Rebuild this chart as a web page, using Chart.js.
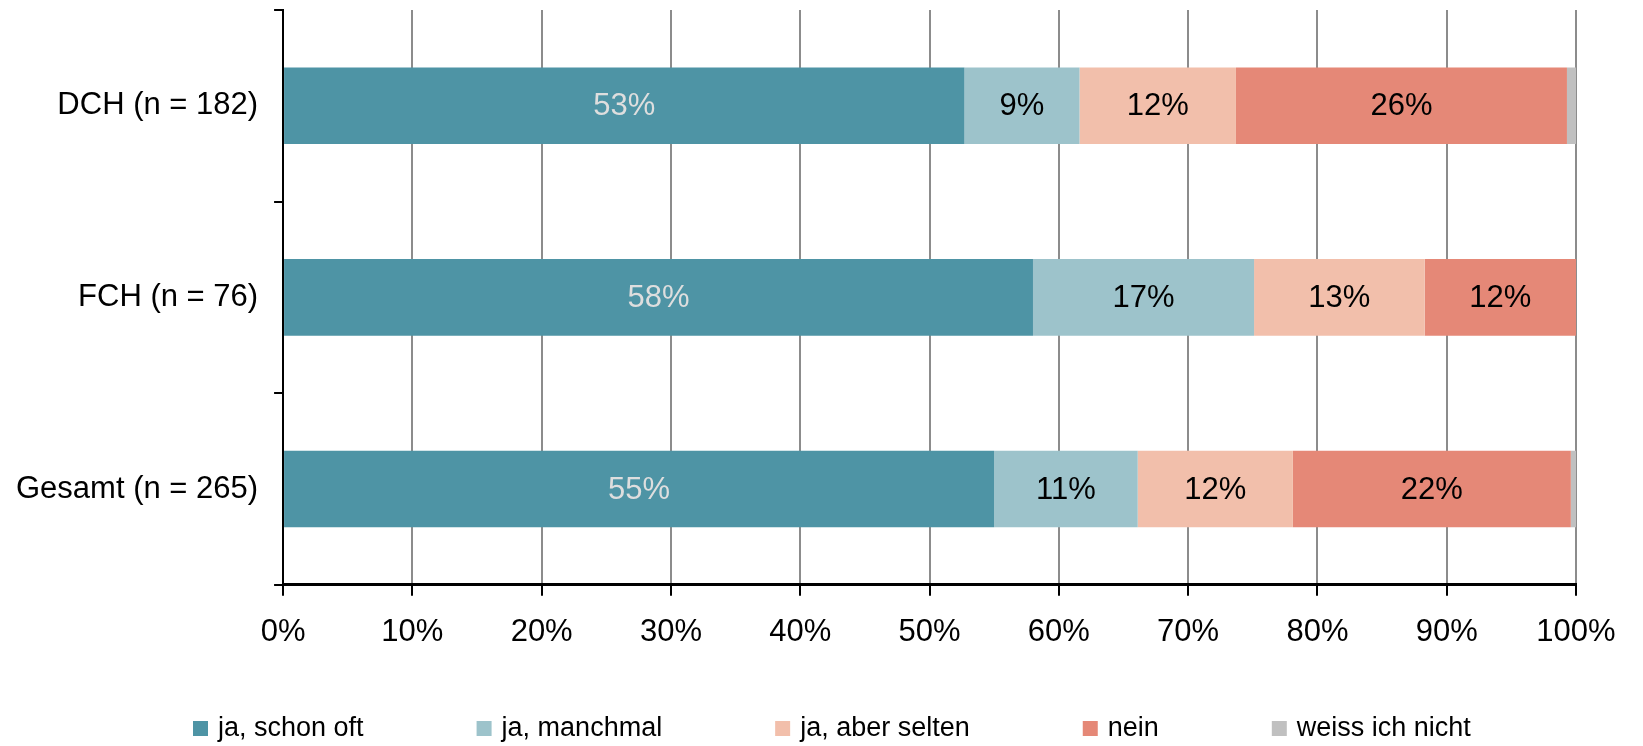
<!DOCTYPE html>
<html>
<head>
<meta charset="utf-8">
<script src="https://cdn.jsdelivr.net/npm/chart.js@4.4.1/dist/chart.umd.min.js"></script>
<style>
  html, body { margin: 0; padding: 0; background: #fff; }
  #wrap { width: 1643px; height: 746px; }
</style>
</head>
<body>
<div id="wrap"><canvas id="chart"></canvas></div>
<script>
// ----- データ -----
const categories = ['DCH (n = 182)', 'FCH (n = 76)', 'Gesamt (n = 265)'];
const seriesNames = ['ja, schon oft', 'ja, manchmal', 'ja, aber selten', 'nein', 'weiss ich nicht'];
const schonOft = [52.7, 58.0, 55.0];
const manchmal = [8.9, 17.1, 11.1];
const selten = [12.1, 13.2, 12.0];
const nein = [25.6, 11.7, 21.5];
const weissNicht = [0.7, 0, 0.4];
const xTicks = [0, 10, 20, 30, 40, 50, 60, 70, 80, 90, 100];

const colors = ['#4e94a5', '#9dc3cb', '#f2bfab', '#e58877', '#c0c0c0'];
const labelColors = ['#dedede', '#000', '#000', '#000', '#000'];
const FONT = 'Liberation Sans, Arial, sans-serif';

// バー中央に値を表示するプラグイン
const barLabels = {
    id: 'barLabels',
    afterDatasetsDraw(chart) {
        const ctx = chart.ctx;
        ctx.save();
        ctx.font = '31px ' + FONT;
        ctx.textAlign = 'center';
        ctx.textBaseline = 'middle';
        chart.data.datasets.forEach((ds, i) => {
            const meta = chart.getDatasetMeta(i);
            meta.data.forEach((bar, j) => {
                const v = ds.data[j];
                if (v < 3) return;
                ctx.fillStyle = labelColors[i];
                ctx.fillText(Math.round(v) + '%', (bar.x + bar.base) / 2, bar.y + 1);
            });
        });
        ctx.restore();
    }
};

// 凡例（項目間の間隔を広くとるため自前で描画）
const wideLegend = {
    id: 'wideLegend',
    afterDraw(chart) {
        const ctx = chart.ctx;
        const y = 728;
        let x = 193;
        ctx.save();
        ctx.font = '27px ' + FONT;
        ctx.textBaseline = 'middle';
        chart.data.datasets.forEach(ds => {
            ctx.fillStyle = ds.backgroundColor;
            ctx.fillRect(x, y - 7, 15, 15);
            ctx.fillStyle = '#000';
            ctx.fillText(ds.label, x + 25, y + 1);
            x += 25 + ctx.measureText(ds.label).width + 113;
        });
        ctx.restore();
    }
};

const dataSets = [schonOft, manchmal, selten, nein, weissNicht];

new Chart(document.getElementById('chart'), {
    type: 'bar',
    data: {
        labels: categories,
        datasets: dataSets.map((d, i) => ({
            label: seriesNames[i],
            data: d,
            backgroundColor: colors[i],
            borderWidth: 0,
            barPercentage: 0.4,
            categoryPercentage: 1
        }))
    },
    options: {
        indexAxis: 'y',
        responsive: true,
        maintainAspectRatio: false,
        animation: false,
        layout: { padding: { left: 0, right: 67, top: 10, bottom: 77 } },
        plugins: {
            tooltip: { enabled: false },
            legend: { display: false }
        },
        scales: {
            x: {
                stacked: true,
                min: 0,
                max: 100,
                afterBuildTicks(axis) {
                    axis.ticks = xTicks.map(v => ({ value: v }));
                },
                ticks: {
                    font: { family: FONT, size: 31 },
                    color: '#000',
                    padding: 18,
                    callback: v => v + '%'
                },
                grid: {
                    color: '#8c8c8c',
                    lineWidth: 2,
                    tickColor: '#000',
                    tickLength: 11
                },
                border: { color: '#000', width: 3 }
            },
            y: {
                stacked: true,
                afterFit(axis) {
                    // ラベル分の上下余白を消す
                    axis.paddingTop = 0;
                    axis.paddingBottom = 0;
                },
                ticks: {
                    font: { family: FONT, size: 31 },
                    color: '#000',
                    padding: 16
                },
                grid: {
                    offset: true,
                    drawOnChartArea: false,
                    tickColor: '#000',
                    tickLength: 9,
                    lineWidth: 2
                },
                border: { color: '#000', width: 2 }
            }
        }
    },
    plugins: [barLabels, wideLegend]
});
</script>
</body>
</html>
